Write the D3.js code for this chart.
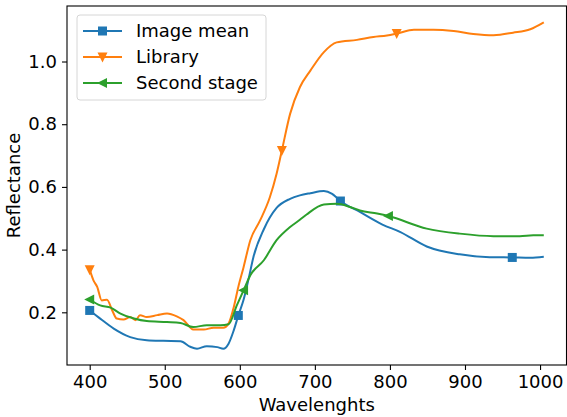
<!DOCTYPE html>
<html>
<head>
<meta charset="utf-8">
<script src="https://cdnjs.cloudflare.com/ajax/libs/d3/7.8.5/d3.min.js"></script>
<style>
    body { margin: 0; background: #fff; }
    svg { font-family: "DejaVu Sans", sans-serif; }
</style>
</head>
<body>
<div class="chart"></div>
<script>
var seriesNames = ['Image mean', 'Library', 'Second stage'];

var meanWl = [400, 414, 432, 454, 476, 498, 521, 534, 543, 556, 570, 578, 585, 592, 598, 605, 612, 618, 632, 649, 667, 680, 694, 712, 723, 734, 760, 790, 814, 849, 893, 933, 963, 987, 1005];
var meanVal = [0.206, 0.18, 0.148, 0.121, 0.111, 0.109, 0.108, 0.09, 0.084, 0.092, 0.089, 0.084, 0.10, 0.143, 0.19, 0.24, 0.31, 0.375, 0.465, 0.533, 0.562, 0.573, 0.58, 0.587, 0.578, 0.555, 0.52, 0.48, 0.456, 0.41, 0.385, 0.376, 0.375, 0.374, 0.377];
var meanMarks = [400, 598, 734, 963];

var libWl = [400, 405, 410, 416, 423, 430, 436, 445, 454, 461, 467, 476, 490, 503, 516, 525, 538, 552, 565, 578, 585, 592, 598, 605, 614, 627, 640, 649, 656, 667, 680, 694, 712, 729, 756, 778, 796, 809, 832, 858, 885, 911, 938, 964, 987, 1005];
var libVal = [0.336, 0.302, 0.281, 0.238, 0.24, 0.206, 0.18, 0.177, 0.185, 0.175, 0.191, 0.185, 0.191, 0.196, 0.187, 0.175, 0.145, 0.145, 0.151, 0.151, 0.164, 0.217, 0.281, 0.344, 0.43, 0.493, 0.567, 0.642, 0.716, 0.833, 0.918, 0.971, 1.03, 1.061, 1.069, 1.078, 1.083, 1.089, 1.101, 1.101, 1.097, 1.088, 1.084, 1.092, 1.103, 1.125];
var libMarks = [400, 656, 809];

var secWl = [400, 414, 428, 441, 459, 476, 503, 521, 538, 556, 574, 585, 596, 605, 614, 632, 649, 667, 680, 689, 712, 729, 747, 760, 783, 798, 849, 893, 938, 973, 991, 1005];
var secVal = [0.241, 0.222, 0.215, 0.196, 0.18, 0.172, 0.169, 0.166, 0.153, 0.159, 0.159, 0.162, 0.222, 0.27, 0.318, 0.366, 0.43, 0.472, 0.495, 0.512, 0.544, 0.546, 0.536, 0.525, 0.515, 0.507, 0.467, 0.451, 0.443, 0.443, 0.446, 0.446];
var secMarks = [400, 605, 798];

var xTicks = [400, 500, 600, 700, 800, 900, 1000];
var yTicks = [0.2, 0.4, 0.6, 0.8, 1.0];

function zip(wl, val) {
    return wl.map(function (w, i) { return { wl: w, v: val[i] }; });
}

var series = [
    { name: seriesNames[0], color: '#1f77b4', marker: 'square', data: zip(meanWl, meanVal), marks: meanMarks },
    { name: seriesNames[1], color: '#ff7f0e', marker: 'down', data: zip(libWl, libVal), marks: libMarks },
    { name: seriesNames[2], color: '#2ca02c', marker: 'left', data: zip(secWl, secVal), marks: secMarks }
];

var fullWidth = 567;
var fullHeight = 417;
var plotLeft = 67, plotRight = 566.5, plotTop = 6, plotBottom = 365;
var fontSize = '18px';

var svg = d3.select('.chart')
            .append('svg')
            .attr('width', fullWidth)
            .attr('height', fullHeight);

// matplotlib style 5% margins
var allWl = meanWl.concat(libWl, secWl);
var allVal = meanVal.concat(libVal, secVal);
var wlMin = d3.min(allWl), wlMax = d3.max(allWl);
var vMin = d3.min(allVal), vMax = d3.max(allVal);
var wlPad = (wlMax - wlMin) * 0.05, vPad = (vMax - vMin) * 0.05;

var x = d3.scaleLinear()
          .domain([wlMin - wlPad, wlMax + wlPad])
          .range([plotLeft, plotRight]);

var y = d3.scaleLinear()
          .domain([vMin - vPad, vMax + vPad])
          .range([plotBottom, plotTop]);

var xAxis = d3.axisBottom(x).tickValues(xTicks).tickSize(5).tickPadding(5).tickFormat(d3.format('d'));
var yAxis = d3.axisLeft(y).tickValues(yTicks).tickSize(5).tickPadding(5).tickFormat(d3.format('.1f'));

var gx = svg.append('g')
            .attr('transform', 'translate(0,' + plotBottom + ')')
            .call(xAxis);
var gy = svg.append('g')
            .attr('transform', 'translate(' + plotLeft + ',0)')
            .call(yAxis);

[gx, gy].forEach(function (g) {
    g.select('.domain').remove();
    g.selectAll('line').attr('stroke', '#000').attr('stroke-width', 1.1);
    g.selectAll('text').attr('fill', '#000').style('font-size', fontSize).style('font-family', '"DejaVu Sans", sans-serif');
});

var line = d3.line()
             .x(function (d) { return x(d.wl); })
             .y(function (d) { return y(d.v); })
             .curve(d3.curveMonotoneX);

var markerSize = 9;

function drawMarker(g, type, cx, cy, color) {
    var s = markerSize / 2;
    if (type === 'square') {
        g.append('rect')
         .attr('x', cx - s).attr('y', cy - s)
         .attr('width', markerSize).attr('height', markerSize)
         .attr('fill', color);
    } else if (type === 'down') {
        g.append('path')
         .attr('d', 'M' + (cx - s - 0.5) + ',' + (cy - s) + 'L' + (cx + s + 0.5) + ',' + (cy - s) + 'L' + cx + ',' + (cy + s + 1) + 'Z')
         .attr('fill', color);
    } else {
        g.append('path')
         .attr('d', 'M' + (cx - s - 1) + ',' + cy + 'L' + (cx + s) + ',' + (cy - s - 0.5) + 'L' + (cx + s) + ',' + (cy + s + 0.5) + 'Z')
         .attr('fill', color);
    }
}

var plot = svg.append('g');

series.forEach(function (s) {
    plot.append('path')
        .datum(s.data)
        .attr('fill', 'none')
        .attr('stroke', s.color)
        .attr('stroke-width', 2)
        .attr('stroke-linejoin', 'round')
        .attr('d', line);

    var mg = plot.append('g');
    s.data.filter(function (d) { return s.marks.indexOf(d.wl) >= 0; })
          .forEach(function (d) {
              drawMarker(mg, s.marker, x(d.wl), y(d.v), s.color);
          });
});

// frame
svg.append('rect')
   .attr('x', plotLeft).attr('y', plotTop)
   .attr('width', plotRight - plotLeft).attr('height', plotBottom - plotTop)
   .attr('fill', 'none')
   .attr('stroke', '#000')
   .attr('stroke-width', 1.1);

// legend
var legend = svg.append('g');
legend.append('rect')
      .attr('x', 77).attr('y', 15)
      .attr('width', 189).attr('height', 85)
      .attr('rx', 3)
      .attr('fill', '#fff').attr('fill-opacity', 0.8)
      .attr('stroke', '#d6d6d6');

series.forEach(function (s, i) {
    var ly = 31 + i * 26;
    legend.append('line')
          .attr('x1', 83).attr('x2', 122)
          .attr('y1', ly).attr('y2', ly)
          .attr('stroke', s.color).attr('stroke-width', 2);
    drawMarker(legend, s.marker, 102.5, ly, s.color);
    legend.append('text')
          .attr('x', 136).attr('y', ly)
          .attr('dy', '0.35em')
          .style('font-size', fontSize)
          .text(s.name);
});

// axis labels
svg.append('text')
   .attr('x', (plotLeft + plotRight) / 2).attr('y', 411)
   .attr('text-anchor', 'middle')
   .style('font-size', fontSize)
   .text('Wavelenghts');

svg.append('text')
   .attr('transform', 'translate(20,' + ((plotTop + plotBottom) / 2) + ') rotate(-90)')
   .attr('text-anchor', 'middle')
   .style('font-size', fontSize)
   .text('Reflectance');
</script>
</body>
</html>
